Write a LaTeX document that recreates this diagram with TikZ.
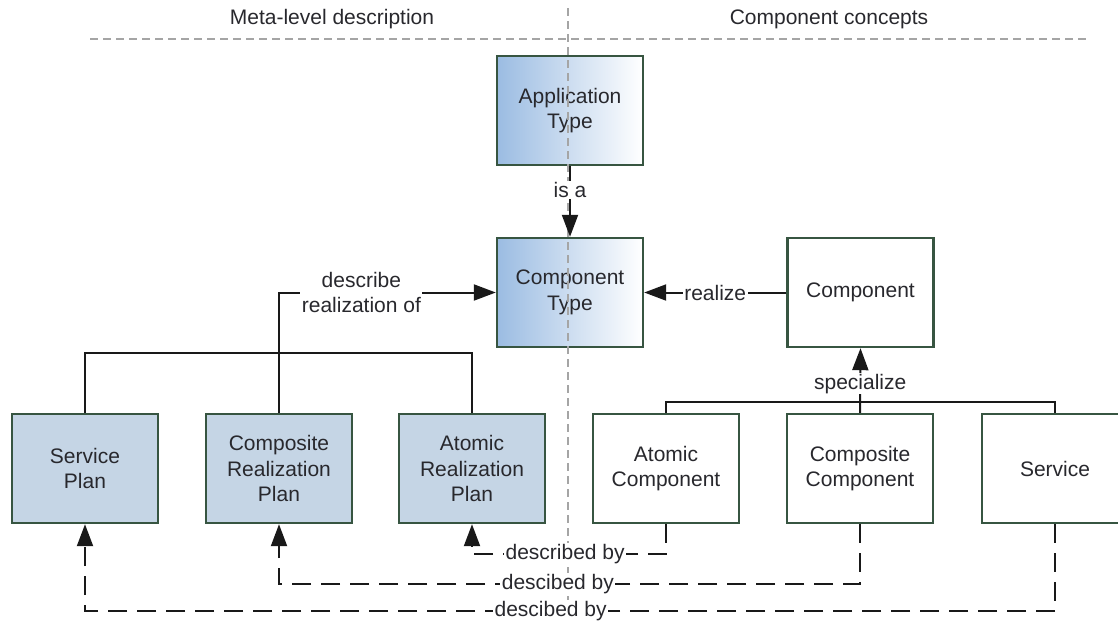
\documentclass[tikz,border=0pt]{standalone}
\usepackage{fontspec}
\setmainfont{Liberation Sans}
\usetikzlibrary{arrows.meta}
\definecolor{boxborder}{RGB}{55,85,65}
\definecolor{planfill}{RGB}{197,213,229}
\definecolor{typeleft}{RGB}{155,188,226}
\definecolor{txt}{RGB}{40,40,45}
\definecolor{guide}{RGB}{165,165,165}
\begin{document}
\begin{tikzpicture}[x=1pt,y=-1pt,
 every node/.style={font=\fontsize{21}{25.5}\selectfont, text=txt},
 box/.style={draw=boxborder, line width=2.4pt, minimum width=146pt, minimum height=109pt, align=center, inner sep=0pt},
 planbox/.style={box, fill=planfill},
 typebox/.style={box, left color=typeleft, right color=white},
 plainbox/.style={box, fill=white},
 lbl/.style={fill=white, inner sep=1.5pt, align=center},
 conn/.style={draw=black!90, line width=2pt},
 arr/.style={conn, -{Triangle[length=22pt,width=16pt]}},
 darr/.style={arr, dash pattern=on 19pt off 10pt},
 guideline/.style={draw=guide, line width=2pt, dash pattern=on 8pt off 5pt}]
\useasboundingbox (0,0) rectangle (1118,622);

% headers
\node (hl) at (332,19) {Meta-level description};
\node (hr) at (829,19) {Component concepts};

% boxes
\node[typebox] (AT) at (570,110.5) {Application\\Type};
\node[typebox] (CT) at (570,292.5) {Component\\Type};
\node[plainbox] (CO) at (860.5,292.5) {Component};
\node[planbox] (SP) at (85,468.5) {Service\\Plan};
\node[planbox] (CRP) at (279,468.5) {Composite\\Realization\\Plan};
\node[planbox] (ARP) at (472,468.5) {Atomic\\Realization\\Plan};
\node[plainbox] (AC) at (666,468.5) {Atomic\\Component};
\node[plainbox] (CC) at (860,468.5) {Composite\\Component};
\node[plainbox] (SV) at (1055,468.5) {Service};

% guide lines
\coordinate (g1) at (90,39);
\coordinate (g2) at (1086,39);
\coordinate (g3) at (568,8);
\coordinate (g4) at (568,622);
\draw[guideline] (g1) -- (g2);
\draw[guideline] (g3) -- (g4);

% upper connectors
\draw[arr] (AT.south) -- node[lbl,pos=0.34]{is a} (CT.north);
\draw[arr] (CO.west) -- node[lbl,pos=0.5]{realize} (CT.east);

% left bracket
\coordinate (jl) at (279,353);
\draw[conn] (SP.north) |- (jl) -| (ARP.north);
\draw[arr] (CRP.north) |- node[lbl,pos=0.69]{describe\\realization of} (CT.west);

% right bracket
\coordinate (jr) at (860,402);
\draw[conn] (AC.north) |- (jr) -| (SV.north);
\draw[arr] (CC.north) -- node[lbl,pos=0.45,inner sep=0.5pt]{specialize} (CO.south);

% described-by connectors
\draw[darr] (AC.south) -- ++(0,30) -| node[lbl,pos=0.26]{described by} (ARP.south);
\draw[darr] (CC.south) -- ++(0,60) -| node[lbl,pos=0.26]{descibed by} (CRP.south);
\draw[darr] (SV.south) -- ++(0,87) -| node[lbl,pos=0.26]{descibed by} (SP.south);
\end{tikzpicture}
\end{document}
